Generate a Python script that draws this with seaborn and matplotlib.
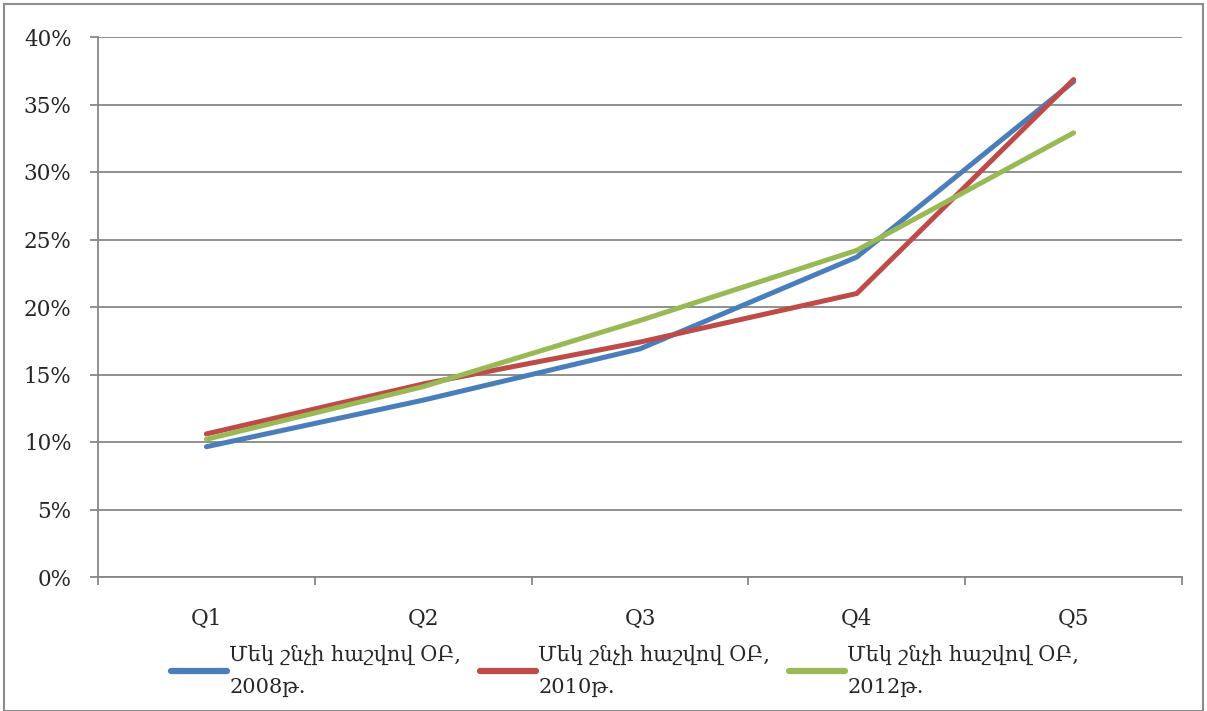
import matplotlib
matplotlib.use("Agg")
import matplotlib.pyplot as plt
import seaborn as sns
import pandas as pd
from matplotlib.patches import Rectangle
from matplotlib.ticker import FuncFormatter, MultipleLocator

categories = ["Q1", "Q2", "Q3", "Q4", "Q5"]
series_names = ["Մեկ շնչի հաշվով ՕԲ,\n2008թ.",
                "Մեկ շնչի հաշվով ՕԲ,\n2010թ.",
                "Մեկ շնչի հաշվով ՕԲ,\n2012թ."]
v2008 = [9.65, 13.1, 16.9, 23.7, 36.7]
v2010 = [10.6, 14.3, 17.4, 21.0, 36.85]
v2012 = [10.2, 14.1, 19.0, 24.2, 32.9]
colors = ["#4A7EBB", "#BE4B48", "#98B954"]

rows = []
for name, vals in zip(series_names, [v2008, v2010, v2012]):
    for i, (c, v) in enumerate(zip(categories, vals)):
        rows.append({"x": i, "cat": c, "value": v, "series": name})
df = pd.DataFrame(rows)

sns.set_style("white")
plt.rcParams['font.family'] = ['DejaVu Serif', 'DejaVu Sans']

fig = plt.figure(figsize=(12.07, 7.11), dpi=100)
ax = fig.add_axes([98/1207, 1 - 577/711, (1182-98)/1207, (577-37)/711])

sns.lineplot(data=df, x="x", y="value", hue="series", palette=colors,
             linewidth=3.6, ax=ax, legend=True, sort=False)
for ln in ax.get_lines():
    ln.set_solid_capstyle("round")
    ln.set_solid_joinstyle("miter")

ax.set_xlim(-0.5, 4.5)
ax.set_ylim(0, 40)
ax.yaxis.set_major_locator(MultipleLocator(5))
ax.yaxis.set_major_formatter(FuncFormatter(lambda v, p: f"{v:.0f}%"))
ax.set_xticks(range(len(categories)))
ax.set_xticklabels(categories)
ax.set_xticks([i - 0.5 for i in range(len(categories) + 1)], minor=True)
ax.set_xlabel("")
ax.set_ylabel("")

grid_c = "#878787"
ax.grid(axis="y", color=grid_c, linewidth=1.3)
ax.set_axisbelow(True)
for s in ["top", "right"]:
    ax.spines[s].set_visible(False)
ax.spines["left"].set_color(grid_c)
ax.spines["bottom"].set_color(grid_c)
ax.spines["left"].set_linewidth(1.3)
ax.spines["bottom"].set_linewidth(1.3)
ax.tick_params(axis="y", which="major", length=6, width=1.3, color=grid_c,
               labelsize=15.5, pad=13, left=True, direction="out")
ax.tick_params(axis="x", which="major", length=0, labelsize=15.5, pad=22)
ax.tick_params(axis="x", which="minor", length=6, width=1.3, color=grid_c,
               bottom=True, direction="out")

handles, labels = ax.get_legend_handles_labels()
ax.get_legend().remove()
leg = fig.legend(handles, labels, loc="center", ncol=3,
                 bbox_to_anchor=(0.518, 1 - 671/711), frameon=False,
                 fontsize=15, handlelength=2.7, columnspacing=0.9,
                 handletextpad=0.1)
for t in leg.get_texts():
    t.set_linespacing(1.85)
for h in leg.legend_handles:
    h.set_linewidth(4.5)
    h.set_solid_capstyle("round")

fig.patches.append(Rectangle((4/1207, 0), 1199/1207, 1 - 4/711,
                             transform=fig.transFigure, fill=False,
                             edgecolor="#8C8C8C", linewidth=1.5))

fig.savefig("out.png", dpi=100)
